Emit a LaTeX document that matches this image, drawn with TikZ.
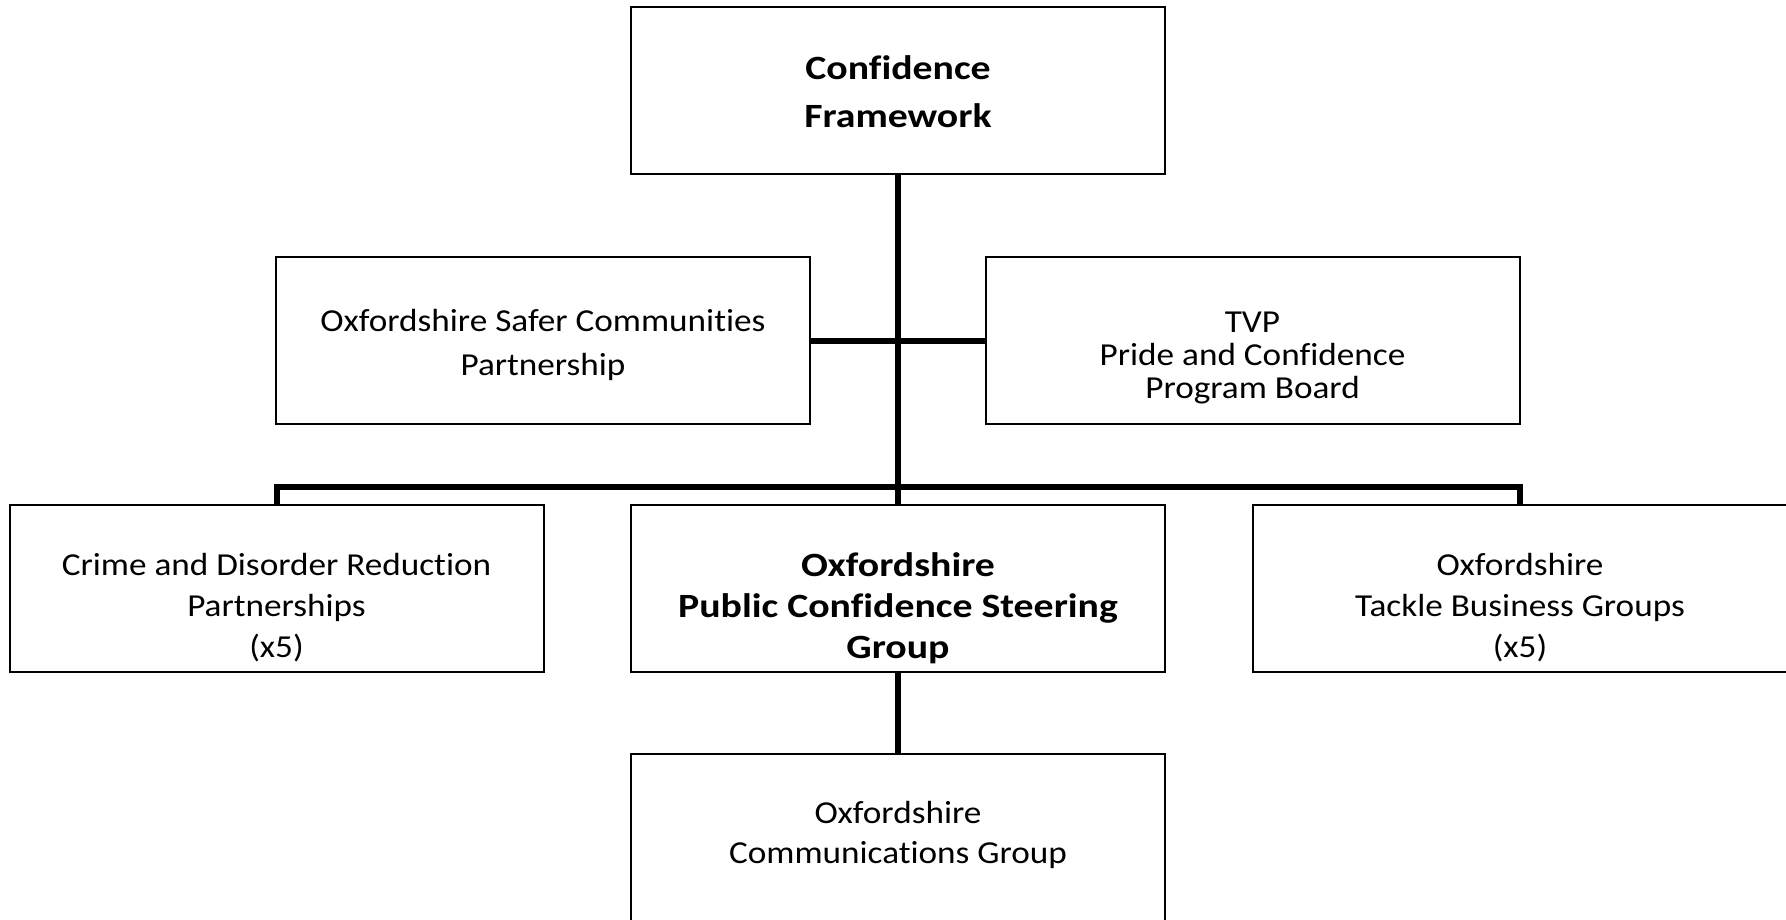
\documentclass[tikz,border=0pt]{standalone}
\usepackage{fontspec}
\setmainfont{Carlito}[Ligatures=NoCommon]
\newfontfamily\regfont{Carlito}[FakeStretch=1.1, Ligatures=NoCommon]
\newfontfamily\bldfont{Carlito}[FakeStretch=1.17, Ligatures=NoCommon]
\begin{document}
\begin{tikzpicture}[x=1pt,y=-1pt,
  box/.style={draw, line width=2pt, minimum width=534pt, minimum height=167pt, inner sep=0pt},
  txt/.style={align=center, inner sep=0pt},
  link/.style={line width=6pt, line join=miter}]
\useasboundingbox (0,0) rectangle (1786,920);
% boxes
\node[box] (top)  at (898,91) {};
\node[box] (oscp) at (543,340.5) {};
\node[box] (tvp)  at (1252.5,340.5) {};
\node[box] (cdrp) at (276.5,588.5) {};
\node[box] (pcsg) at (898,588.5) {};
\node[box] (tbg)  at (1520,588.5) {};
\node[box] (comm) at (898,837) {};
% texts
\node[txt, font=\bldfont\bfseries\fontsize{34}{48}\selectfont] (toptxt) at (898,92) {Confidence\\Framework};
\node[txt, font=\regfont\fontsize{32}{44}\selectfont] (oscptxt) at (543,345) {Oxfordshire Safer Communities\\Partnership};
\node[txt, font=\regfont\fontsize{32}{33}\selectfont] (tvptxt) at (1252.5,358) {TVP\\Pride and Confidence\\Program Board};
\node[txt, font=\regfont\fontsize{32}{41}\selectfont] (cdrptxt) at (276.5,608) {Crime and Disorder Reduction\\Partnerships\\(x5)};
\node[txt, font=\bldfont\bfseries\fontsize{34}{41}\selectfont] (pcsgtxt) at (898,608) {Oxfordshire\\Public Confidence Steering\\Group};
\node[txt, font=\regfont\fontsize{32}{41}\selectfont] (tbgtxt) at (1520,608) {Oxfordshire\\Tackle Business Groups\\(x5)};
\node[txt, font=\regfont\fontsize{32}{40}\selectfont] (commtxt) at (898,835) {Oxfordshire\\Communications Group};
% connectors
\draw[link] (top.south) -- (pcsg.north);
\draw[link] (oscp.east) -- (tvp.west);
\draw[link] (cdrp.north) -- ++(0,-17) -| (tbg.north);
\draw[link] (pcsg.south) -- (comm.north);
\end{tikzpicture}
\end{document}
